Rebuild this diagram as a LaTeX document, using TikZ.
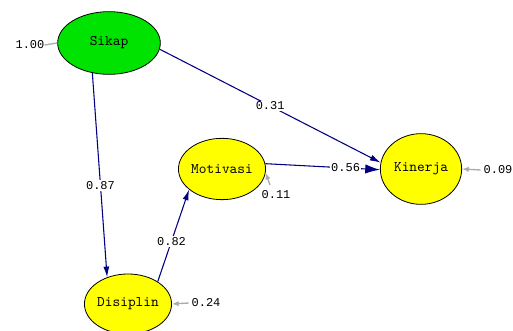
\documentclass[tikz,border=0pt]{standalone}
\usepackage{fontspec}
\setmonofont{Liberation Mono}
\newfontfamily\namefont{Latin Modern Mono}
\usetikzlibrary{shapes.geometric,arrows.meta}
\definecolor{pathblue}{RGB}{0,0,128}
\definecolor{errgray}{RGB}{170,170,170}
\definecolor{latgreen}{RGB}{0,226,0}
\definecolor{latyellow}{RGB}{255,255,0}
\begin{document}
\begin{tikzpicture}[x=0.75pt,y=-0.75pt,
  latent/.style={ellipse,draw=black,line width=0.6pt,inner sep=0pt,
    font=\namefont\fontsize{11}{12}\selectfont},
  coef/.style={fill=white,inner sep=1pt,font=\ttfamily\fontsize{9}{10}\selectfont},
  errlbl/.style={inner sep=0pt,font=\ttfamily\fontsize{9}{10}\selectfont},
  pathline/.style={draw=pathblue,line width=0.8pt,
    -{Latex[length=8pt,width=4.5pt]}},
  errline/.style={draw=errgray,line width=1pt,
    -{Latex[length=5pt,width=4pt]}}]
\useasboundingbox (0,0) rectangle (513,331);
% latent variables
\node[latent,fill=latgreen,minimum width=77pt,minimum height=47pt] (sik) at (109,43) {Sikap};
\node[latent,fill=latyellow,minimum width=63pt,minimum height=46pt] (mot) at (222,169) {Motivasi};
\node[latent,fill=latyellow,minimum width=61pt,minimum height=53pt] (kin) at (421,169) {Kinerja};
\node[latent,fill=latyellow,minimum width=63pt,minimum height=45pt] (dis) at (128,304) {Disiplin};
% structural paths
\draw[pathline] (sik.241) -- node[coef,pos=0.55]{0.87} (dis.128);
\draw[pathline] (dis.37) -- node[coef,pos=0.44]{0.82} (mot.212);
\draw[pathline,-{Latex[length=11pt,width=7pt]}] (mot.7) -- node[coef,pos=0.7]{0.56} (kin.181);
\draw[pathline] (sik.353) -- node[coef,pos=0.5]{0.31} (kin.171);
% error terms
\node[errlbl] (esik) at (30,45) {1.00};
\node[errlbl] (emot) at (276,195) {0.11};
\node[errlbl] (ekin) at (498,170) {0.09};
\node[errlbl] (edis) at (206,303) {0.24};
\coordinate (emt) at (270,185);
\draw[draw=errgray,line width=1pt] (esik.east) -- (sik.west);
\draw[errline] (emt) -- (mot.-5);
\draw[errline] ([xshift=-2pt]ekin.west) -- (kin.east);
\draw[errline] ([xshift=-2pt]edis.west) -- (dis.east);
\end{tikzpicture}
\end{document}
